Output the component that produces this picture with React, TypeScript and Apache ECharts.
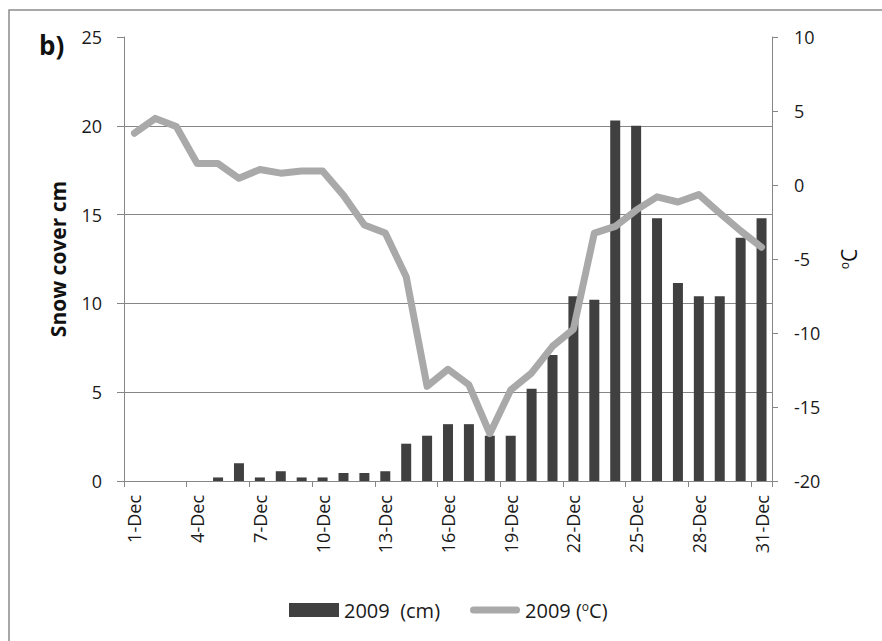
import React, { useEffect, useRef } from "react";
import * as echarts from "echarts";

const categories = [
  "1-Dec", "2-Dec", "3-Dec", "4-Dec", "5-Dec", "6-Dec", "7-Dec", "8-Dec", "9-Dec", "10-Dec",
  "11-Dec", "12-Dec", "13-Dec", "14-Dec", "15-Dec", "16-Dec", "17-Dec", "18-Dec", "19-Dec", "20-Dec",
  "21-Dec", "22-Dec", "23-Dec", "24-Dec", "25-Dec", "26-Dec", "27-Dec", "28-Dec", "29-Dec", "30-Dec", "31-Dec",
];

const snowCover = [
  0, 0, 0, 0, 0.2, 1.0, 0.2, 0.55, 0.2, 0.2,
  0.45, 0.45, 0.55, 2.1, 2.55, 3.2, 3.2, 2.55, 2.55, 5.2,
  7.1, 10.4, 10.2, 20.3, 20.0, 14.8, 11.15, 10.4, 10.4, 13.7, 14.8,
];

const temperature = [
  3.5, 4.5, 3.95, 1.45, 1.45, 0.45, 1.05, 0.8, 0.95, 0.95,
  -0.7, -2.7, -3.25, -6.2, -13.6, -12.45, -13.5, -16.8, -13.85, -12.7,
  -10.9, -9.75, -3.25, -2.8, -1.7, -0.8, -1.15, -0.65, -1.9, -3.1, -4.2,
];

const snowName = "2009  (cm)";
const tempName = "2009 (oC)";

const FONT = "Open Sans";
const AXIS_COLOR = "#868686";
const TEXT_COLOR = "#1a1a1a";
const LINE_COLOR = "#a9a9a9";

export default function App() {
  const ref = useRef<HTMLDivElement>(null);
  useEffect(() => {
    if (!ref.current) return;
    const chart = echarts.init(ref.current, null, { renderer: "svg" });
    chart.setOption({
      animation: false,
      backgroundColor: "#ffffff",
      textStyle: { fontFamily: FONT },
      grid: { left: 124, right: 110, top: 37, bottom: 160, containLabel: false },
      graphic: [
        {
          type: "rect",
          shape: { x: 9, y: 10, width: 900, height: 700 },
          style: { fill: "none", stroke: "#8c8c8c", lineWidth: 1.5 },
          silent: true,
        },
        {
          type: "text",
          left: 39,
          top: 32,
          style: { text: "b)", fontFamily: FONT, fontSize: 26, fontWeight: "bold", fill: "#111" },
        },
      ],
      legend: {
        left: 284,
        top: 595,
        itemWidth: 50,
        itemHeight: 14,
        itemGap: 30,
        data: [
          { name: snowName, icon: "rect" },
          {
            name: tempName,
            icon: "path://M3.5 0H46.5A3.5 3.5 0 0 1 46.5 7H3.5A3.5 3.5 0 0 1 3.5 0Z",
            itemStyle: { color: LINE_COLOR },
          },
        ],
        formatter: (name: string) => (name === tempName ? "2009 ({s|o}C)" : name),
        textStyle: {
          fontFamily: FONT,
          fontSize: 20,
          color: TEXT_COLOR,
          rich: { s: { fontFamily: FONT, fontSize: 12, verticalAlign: "top", color: TEXT_COLOR } },
        },
      },
      xAxis: {
        type: "category",
        data: categories,
        boundaryGap: true,
        axisLine: { lineStyle: { color: AXIS_COLOR, width: 1 } },
        axisTick: { show: true, interval: 2, length: 6, lineStyle: { color: AXIS_COLOR } },
        axisLabel: {
          interval: 2,
          rotate: 90,
          margin: 14,
          fontFamily: FONT,
          fontSize: 18,
          color: TEXT_COLOR,
        },
        splitLine: { show: false },
      },
      yAxis: [
        {
          type: "value",
          min: 0,
          max: 25,
          interval: 5,
          position: "left",
          name: "Snow cover cm",
          nameLocation: "middle",
          nameRotate: 90,
          nameGap: 56,
          nameTextStyle: { fontFamily: FONT, fontSize: 21, fontWeight: "bold", color: "#111" },
          axisLine: { show: true, lineStyle: { color: AXIS_COLOR } },
          axisTick: { show: true, length: 7, lineStyle: { color: AXIS_COLOR } },
          axisLabel: { margin: 22, fontFamily: FONT, fontSize: 18, color: TEXT_COLOR },
          splitLine: { show: true, showMaxLine: false, lineStyle: { color: AXIS_COLOR, width: 1 } },
        },
        {
          type: "value",
          min: -20,
          max: 10,
          interval: 5,
          position: "right",
          name: "{s|o}{c|C}",
          nameLocation: "middle",
          nameRotate: 90,
          nameGap: 66,
          nameTextStyle: {
            fontFamily: FONT,
            color: "#111",
            rich: {
              s: { fontFamily: FONT, fontSize: 12, verticalAlign: "top", color: "#111" },
              c: { fontFamily: FONT, fontSize: 21, color: "#111" },
            },
          },
          axisLine: { show: true, lineStyle: { color: AXIS_COLOR } },
          axisTick: { show: true, length: 6, lineStyle: { color: AXIS_COLOR } },
          axisLabel: { margin: 22, fontFamily: FONT, fontSize: 18, color: TEXT_COLOR },
          splitLine: { show: false },
        },
      ],
      series: [
        {
          name: snowName,
          type: "bar",
          data: snowCover,
          yAxisIndex: 0,
          barWidth: 10,
          itemStyle: { color: "#404040", borderColor: "#2a2a2a", borderWidth: 0 },
          z: 2,
        },
        {
          name: tempName,
          type: "line",
          data: temperature,
          yAxisIndex: 1,
          symbol: "none",
          showSymbol: false,
          lineStyle: { color: LINE_COLOR, width: 7, cap: "round", join: "round" },
          itemStyle: { color: LINE_COLOR },
          z: 3,
        },
      ],
    });
    return () => chart.dispose();
  }, []);
  return (
    <div
      ref={ref}
      style={{ position: "absolute", left: 0, top: 0, width: 882, height: 641 }}
    />
  );
}
